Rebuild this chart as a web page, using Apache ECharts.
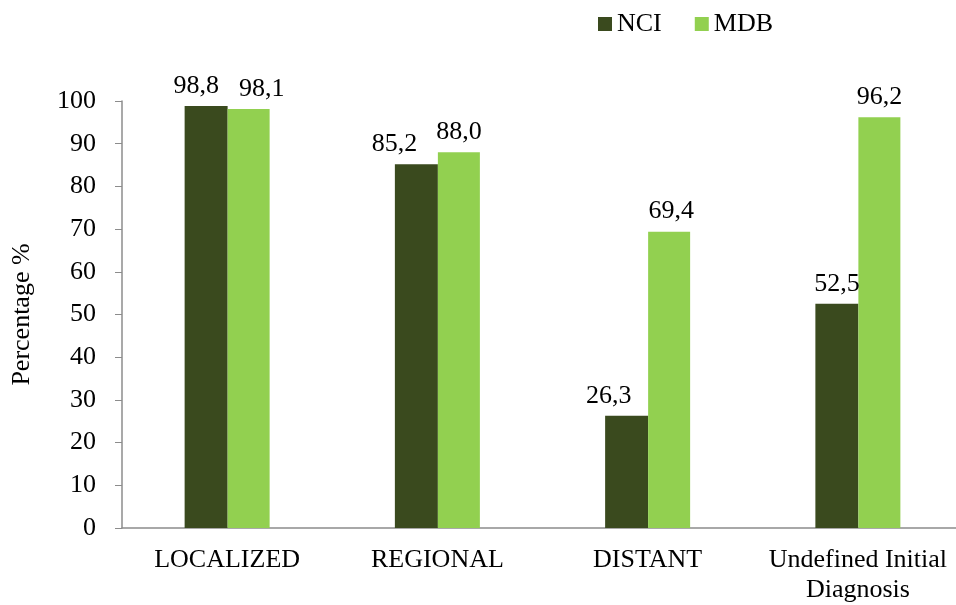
<!DOCTYPE html>
<html>
<head>
<meta charset="utf-8">
<script src="https://cdn.jsdelivr.net/npm/echarts@6/dist/echarts.min.js"></script>
<style>
  html, body {margin: 0; padding: 0; background: #fff; overflow: hidden;}
  #main {width: 970px; height: 605px;}
</style>
</head>
<body>
<div id="main"></div>
<script>
// stages and survival percentages
var categories = ['LOCALIZED', 'REGIONAL', 'DISTANT', 'Undefined Initial\nDiagnosis'];
var nciData = [98.8, 85.2, 26.3, 52.5];
var mdbData = [98.1, 88.0, 69.4, 96.2];
var yTicks = {min: 0, max: 100, interval: 10};

// small sideways nudges of the value labels (like the original, to keep them apart)
var nciShift = [-10, -22, -18, 0];
var mdbShift = [13, 0, 2, 0];

var font = 'Liberation Serif';
var fs = 26;

function fmt(p) {
    return p.value.toFixed(1).replace('.', ',');
}

function withShift(values, shifts) {
    var out = [];
    for (var i = 0; i < values.length; i++) {
        out.push({value: values[i], label: {offset: [shifts[i], 0]}});
    }
    return out;
}

// the plot runs a little past the right edge of the window, as in the original
var myChart = echarts.init(document.getElementById('main'));
var option = {
    animation: false,
    textStyle: {fontFamily: font, color: '#000'},
    legend: {
        left: 593, top: 6,
        itemWidth: 14, itemHeight: 14, itemGap: 33,
        icon: 'rect',
        textStyle: {fontFamily: font, fontSize: fs, color: '#000'},
        data: ['NCI', 'MDB']
    },
    grid: {left: 122, top: 101, width: 841, height: 428},
    xAxis: {
        type: 'category',
        data: categories,
        axisLine: {lineStyle: {color: '#8c8c8c', width: 1.5}},
        axisTick: {show: false},
        axisLabel: {interval: 0, fontFamily: font, fontSize: fs, color: '#000', margin: 17, lineHeight: 30}
    },
    yAxis: {
        type: 'value',
        min: yTicks.min, max: yTicks.max, interval: yTicks.interval,
        name: 'Percentage %',
        nameLocation: 'middle',
        nameGap: 87,
        nameTextStyle: {fontFamily: font, fontSize: fs, color: '#000'},
        axisLine: {show: true, lineStyle: {color: '#8c8c8c', width: 1.5}},
        axisTick: {show: true, inside: false, length: 7, lineStyle: {color: '#8c8c8c'}},
        axisLabel: {fontFamily: font, fontSize: fs, color: '#000', margin: 26},
        splitLine: {show: false}
    },
    series: [
        {
            name: 'NCI', type: 'bar',
            barWidth: 43, barGap: '0%',
            itemStyle: {color: '#3a4a1e'},
            label: {show: true, position: 'top', distance: 7, fontFamily: font, fontSize: fs, color: '#000', formatter: fmt},
            data: withShift(nciData, nciShift)
        },
        {
            name: 'MDB', type: 'bar',
            barWidth: 42, barGap: '0%',
            itemStyle: {color: '#92d050'},
            label: {show: true, position: 'top', distance: 7, fontFamily: font, fontSize: fs, color: '#000', formatter: fmt},
            data: withShift(mdbData, mdbShift)
        }
    ]
};
myChart.setOption(option);
</script>
</body>
</html>
